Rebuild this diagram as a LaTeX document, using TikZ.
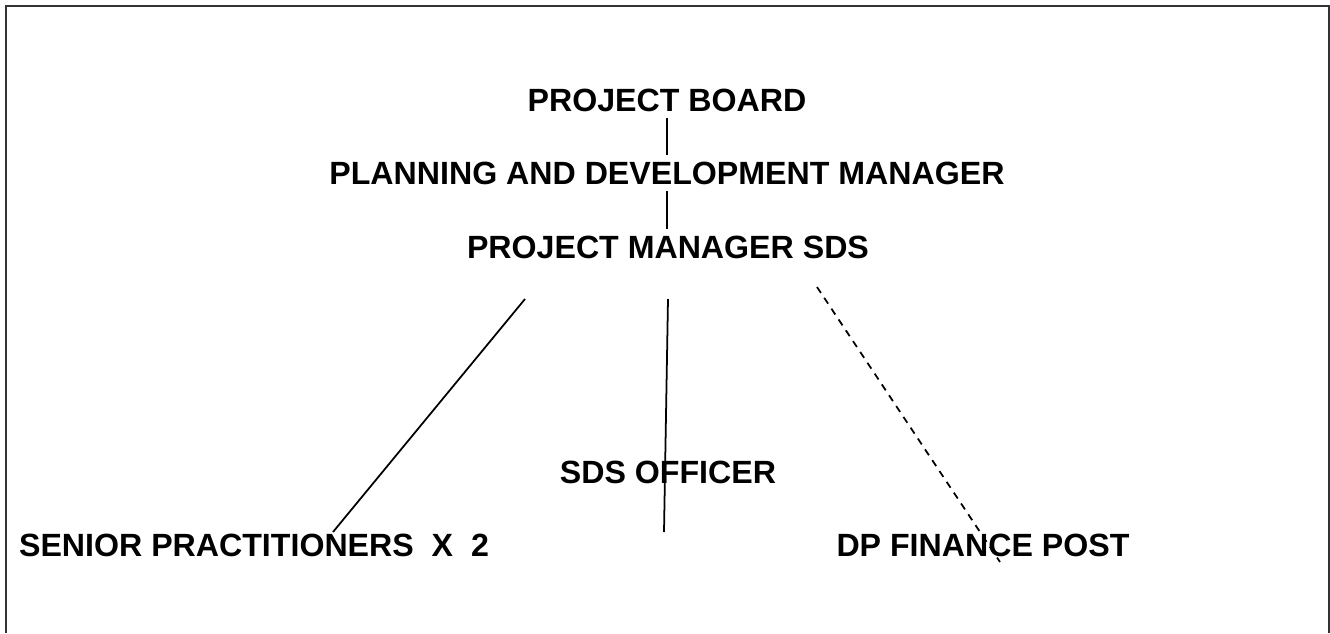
\documentclass[tikz,border=0pt]{standalone}
\usepackage{fontspec}
\setmainfont{Liberation Sans}
\usepackage{tikz}

\begin{document}
\begin{tikzpicture}[x=0.02cm, y=-0.02cm,
    orgtext/.style={font=\fontsize{18.3}{21}\selectfont\bfseries, text height=13.1pt, text depth=0pt, inner sep=0.12cm},
    link/.style={line width=1pt, black},
    dashlink/.style={link, dash pattern=on 4pt off 3.4pt}]
      \useasboundingbox (0,0) rectangle (1330,633);
      \draw[line width=1.1pt, black!80] (6,633) -- (6,6) -- (1329,6) -- (1329,633);

      % the chain at the top
      \node[orgtext] (board) at (667,100) {PROJECT BOARD};
      \node[orgtext] (pdm) at (667,173) {PLANNING AND DEVELOPMENT MANAGER};
      \node[orgtext] (pmsds) at (668,247) {PROJECT MANAGER SDS};
      \draw[link] (board.south -| 667,0) -- (pdm.north -| 667,0);
      \draw[link] (pdm.south -| 667,0) -- (pmsds.north -| 667,0);

      % the posts below
      \node[orgtext] (officer) at (668,472) {SDS OFFICER};
      \node[orgtext] (senior) at (254,545) {SENIOR PRACTITIONERS~~X~~2};
      \node[orgtext] (finance) at (983,545) {DP FINANCE POST};

      \coordinate (seniortop) at (525,299);
      \coordinate (seniorend) at (333,532);
      \coordinate (officertop) at (668,299);
      \coordinate (officerend) at (664,532);
      \coordinate (financetop) at (817,287);
      \coordinate (financeend) at (1000,562);
      \draw[link] (seniortop) -- (seniorend);
      \draw[link] (officertop) -- (officerend);
      \draw[dashlink] (financetop) -- (financeend);
    \end{tikzpicture}
\end{document}
